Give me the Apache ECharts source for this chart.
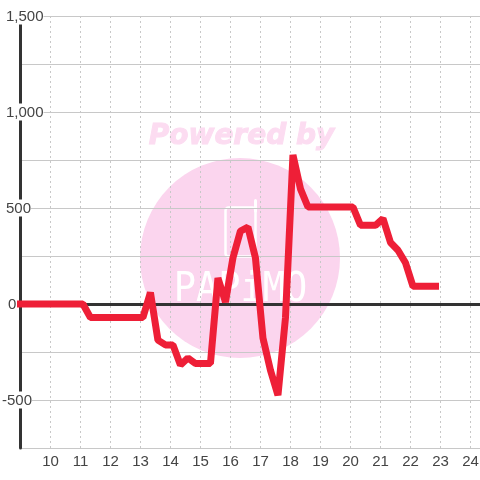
<!DOCTYPE html>
<html><head><meta charset="utf-8">
<style>html,body{margin:0;padding:0;background:#fff}#c{width:480px;height:480px}</style>
<script src="https://cdn.jsdelivr.net/npm/echarts@6/dist/echarts.min.js"></script>
</head><body><div id="c"></div>
<script>
const hours = [9,9.33,9.58,9.83,10.08,10.33,10.58,10.83,11.08,11.33,11.58,11.83,12.08,12.33,12.58,12.83,13.08,13.33,13.58,13.83,14.08,14.33,14.58,14.83,15.08,15.33,15.58,15.83,16.08,16.33,16.58,16.83,17.08,17.33,17.58,17.83,18.08,18.33,18.58,18.83,19.08,19.33,19.58,19.83,20.08,20.33,20.58,20.83,21.08,21.33,21.58,21.83,22.08,22.33,22.58,22.83];
const values = [0,0,0,0,0,0,0,0,0,-70,-70,-70,-70,-70,-70,-70,-70,60,-188,-213,-213,-318,-281,-310,-310,-310,135,10,240,380,400,240,-177,-345,-475,-73,776,600,505,505,505,505,505,505,505,410,410,410,445,320,280,215,92,92,92,92];
const xTicks = [10,11,12,13,14,15,16,17,18,19,20,21,22,23,24];
const yLabels = {'1500':'{p|1,500}','1000':'{p|1,000}','500':'{p|500}','0':'{z|0}','-500':'{n|-500}'};

const chart = echarts.init(document.getElementById('c'), null, {renderer:'canvas'});
const gridCol = '#c8c8c8', axisCol = '#333333', textCol = '#444444';
const richBase = {fontSize:15,fontFamily:'"Liberation Sans"',color:textCol,backgroundColor:'#fff',height:15,lineHeight:15};
chart.setOption({
  animation:false,
  backgroundColor:'#ffffff',
  graphic:[
    {type:'circle',z:-10,shape:{cx:240,cy:258,r:100},style:{fill:'#fbd5ee'},silent:true},
    {type:'text',z:-10,x:241.5,y:137,style:{text:'Powered by',fill:'#fcdcf1',stroke:'#fcdcf1',lineWidth:1,font:'italic bold 28px "DejaVu Sans"',align:'center',verticalAlign:'middle'},silent:true},
    {type:'rect',z:-9,shape:{x:225.5,y:207.5,width:30,height:49,r:3},style:{fill:'none',stroke:'#ffffff',lineWidth:2.5},silent:true},
    {type:'line',z:-9,shape:{x1:255.5,y1:211,x2:255.5,y2:200.5},style:{stroke:'#ffffff',lineWidth:3,lineCap:'round'},silent:true},
    {type:'text',z:-9,x:240.5,y:290,scaleY:1.1,style:{text:'PAPiMO',fill:'#ffffff',font:'37px "DejaVu Sans Mono"',align:'center',verticalAlign:'middle'},silent:true}
  ],
  grid:{left:20.5,right:-0.5,top:16,bottom:32,containLabel:false,outerBoundsMode:'none'},
  xAxis:{type:'value',min:9,max:24.33,interval:1,
    axisLine:{show:false},axisTick:{show:false},
    splitLine:{show:true,lineStyle:{color:gridCol,type:[2,3],width:1}},
    axisLabel:{color:textCol,fontSize:15,fontFamily:'"Liberation Sans"',margin:6,showMinLabel:true,showMaxLabel:true,hideOverlap:false,
      customValues:xTicks,formatter:v=>String(v)}
  },
  yAxis:{type:'value',min:-750,max:1500,interval:250,
    axisLine:{show:true,onZero:false,lineStyle:{color:axisCol,width:3}},
    axisTick:{show:false},
    splitLine:{show:true,lineStyle:{color:gridCol,width:1}},
    axisLabel:{show:true,inside:true,margin:-18.5,align:'left',
      rich:{p:{...richBase,padding:[2,0,0,4]},z:{...richBase,padding:[2,0,0,6]},n:{...richBase,padding:[2,0,0,0]}},
      formatter:v=>yLabels[String(v)]||''}
  },
  series:[
    {type:'line',silent:true,symbol:'none',z:5,clip:false,data:hours.map((h,i)=>[h,values[i]]),
     lineStyle:{color:'#ee1f37',width:7,cap:'square',join:'bevel'},
     markLine:{silent:true,symbol:'none',z:3,animation:false,label:{show:false},
       lineStyle:{color:axisCol,width:3,type:'solid'},data:[{yAxis:0}]}}
  ]
});
</script></body></html>
